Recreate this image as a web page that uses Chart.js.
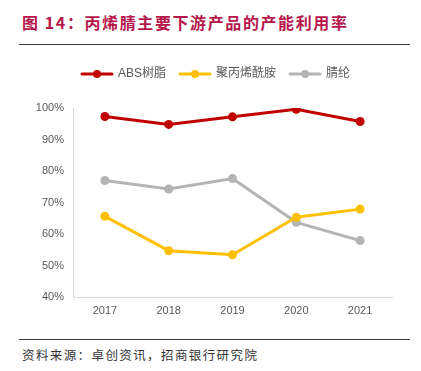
<!DOCTYPE html>
<html>
<head>
<meta charset="utf-8">
<script src="https://cdn.jsdelivr.net/npm/chart.js@4.4.0/dist/chart.umd.min.js"></script>
<style>
  html, body { margin: 0; padding: 0; background: #fff; }
  body { width: 421px; height: 371px; position: relative; overflow: hidden; font-family: "Noto Sans CJK SC", sans-serif; }
  #title { position: absolute; left: 22px; top: 10px; font-size: 16px; font-weight: bold; color: #b5174b; letter-spacing: 1.6px; white-space: nowrap; }
  .rule { position: absolute; left: 19px; width: 391px; height: 1px; background: #3a3a3a; }
  #chartBox { position: absolute; left: 0; top: 50px; width: 421px; height: 265px; }
  #source { position: absolute; left: 22px; top: 345px; font-size: 12.5px; color: #333; letter-spacing: 1.4px; white-space: nowrap; }
</style>
</head>
<body>
<div id="title">图 14：丙烯腈主要下游产品的产能利用率</div>
<div class="rule" style="top:44px"></div>
<div id="chartBox"><canvas id="chart"></canvas></div>
<div class="rule" style="top:339px"></div>
<div id="source">资料来源：卓创资讯，招商银行研究院</div>

<script>
// 数据
const years = ["2017", "2018", "2019", "2020", "2021"];
const absResin = [97.3, 94.8, 97.2, 99.6, 95.7];
const polyacrylamide = [65.6, 54.7, 53.4, 65.3, 67.9];
const acrylicFiber = [77.0, 74.3, 77.6, 63.7, 57.9];

const colors = { red: "#c00000", yellow: "#ffc000", grey: "#b4b4b4", text: "#595959", axis: "#d9d9d9" };

// legend marker: short line with a dot in the middle
function legendMarker(color) {
  const c = document.createElement("canvas");
  c.width = 34; c.height = 10;
  const ctx = c.getContext("2d");
  ctx.strokeStyle = color;
  ctx.lineWidth = 3;
  ctx.lineCap = "round";
  ctx.beginPath(); ctx.moveTo(2, 5); ctx.lineTo(32, 5); ctx.stroke();
  ctx.fillStyle = color;
  ctx.beginPath(); ctx.arc(17, 5, 4, 0, Math.PI * 2); ctx.fill();
  return c;
}

function series(label, values, color) {
  return {
    label: label,
    data: values,
    borderColor: color,
    backgroundColor: color,
    borderWidth: 3,
    pointRadius: 4.5,
    pointHoverRadius: 5,
    pointBackgroundColor: color,
    pointBorderWidth: 0,
    tension: 0,
    marker: legendMarker(color)
  };
}

// move the legend: centred on the page, a bit higher above the plot
const legendShift = {
  id: "legendShift",
  afterLayout(chart) {
    const lg = chart.legend;
    if (!lg) return;
    lg.left += 20; lg.right += 20;
    lg.top -= 18; lg.bottom -= 18;
  }
};

const font = { family: "'Liberation Sans', 'Noto Sans CJK SC', sans-serif", size: 11 };

new Chart(document.getElementById("chart"), {
  type: "line",
  data: {
    labels: years,
    datasets: [
      series("ABS树脂", absResin, colors.red),
      series("聚丙烯酰胺", polyacrylamide, colors.yellow),
      series("腈纶", acrylicFiber, colors.grey)
    ]
  },
  plugins: [legendShift],
  options: {
    responsive: true,
    maintainAspectRatio: false,
    animation: false,
    layout: { padding: { left: 0, right: 29, top: 22, bottom: 0 } },
    plugins: {
      tooltip: { enabled: false },
      legend: {
        display: true,
        position: "top",
        labels: {
          usePointStyle: true,
          pointStyleWidth: 30,
          padding: 14,
          color: colors.text,
          font: { family: "'Liberation Sans', 'Noto Sans CJK SC', sans-serif", size: 12 },
          generateLabels: chart => {
            const items = Chart.defaults.plugins.legend.labels.generateLabels(chart);
            items.forEach(it => { it.pointStyle = chart.data.datasets[it.datasetIndex].marker; });
            return items;
          }
        }
      }
    },
    scales: {
      x: {
        offset: true,
        grid: { display: false, drawTicks: false },
        border: { display: true, color: colors.axis, width: 1 },
        ticks: { color: colors.text, font: font, padding: 7 },
        afterFit: s => { s.height = 18; }
      },
      y: {
        min: 40,
        max: 100,
        grid: { display: false, drawTicks: false },
        border: { display: true, color: colors.axis, width: 1 },
        ticks: {
          stepSize: 10,
          color: colors.text,
          font: font,
          padding: 9,
          callback: v => v + "%"
        },
        afterFit: s => { s.width = 73; }
      }
    }
  }
});
</script>
</body>
</html>
